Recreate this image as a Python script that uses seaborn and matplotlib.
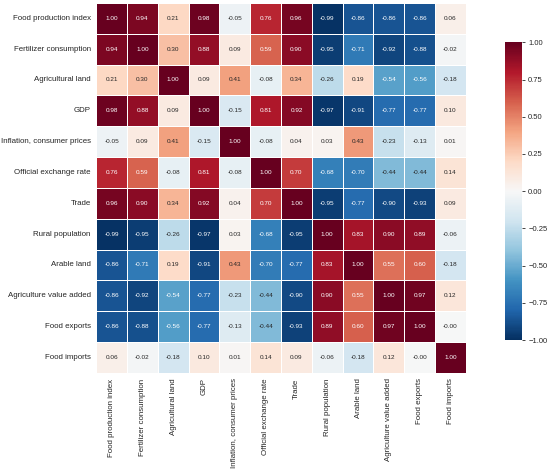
import numpy as np
import pandas as pd
import matplotlib
matplotlib.use("Agg")
import matplotlib.pyplot as plt
import seaborn as sns

labels = ["Food production index", "Fertilizer consumption", "Agricultural land", "GDP",
          "Inflation, consumer prices", "Official exchange rate", "Trade", "Rural population",
          "Arable land", "Agriculture value added", "Food exports", "Food imports"]

# correlation rows
r_food_prod = [1.00, 0.94, 0.21, 0.98, -0.05, 0.76, 0.96, -0.99, -0.86, -0.86, -0.86, 0.06]
r_fert = [0.94, 1.00, 0.30, 0.88, 0.09, 0.59, 0.90, -0.95, -0.71, -0.92, -0.88, -0.02]
r_agri_land = [0.21, 0.30, 1.00, 0.09, 0.41, -0.08, 0.34, -0.26, 0.19, -0.54, -0.56, -0.18]
r_gdp = [0.98, 0.88, 0.09, 1.00, -0.15, 0.81, 0.92, -0.97, -0.91, -0.77, -0.77, 0.10]
r_infl = [-0.05, 0.09, 0.41, -0.15, 1.00, -0.08, 0.04, 0.03, 0.43, -0.23, -0.13, 0.01]
r_exch = [0.76, 0.59, -0.08, 0.81, -0.08, 1.00, 0.70, -0.68, -0.70, -0.44, -0.44, 0.14]
r_trade = [0.96, 0.90, 0.34, 0.92, 0.04, 0.70, 1.00, -0.95, -0.77, -0.90, -0.93, 0.09]
r_rural = [-0.99, -0.95, -0.26, -0.97, 0.03, -0.68, -0.95, 1.00, 0.83, 0.90, 0.89, -0.06]
r_arable = [-0.86, -0.71, 0.19, -0.91, 0.43, -0.70, -0.77, 0.83, 1.00, 0.55, 0.60, -0.18]
r_value_added = [-0.86, -0.92, -0.54, -0.77, -0.23, -0.44, -0.90, 0.90, 0.55, 1.00, 0.97, 0.12]
r_exports = [-0.86, -0.88, -0.56, -0.77, -0.13, -0.44, -0.93, 0.89, 0.60, 0.97, 1.00, -0.001]
r_imports = [0.06, -0.02, -0.18, 0.10, 0.01, 0.14, 0.09, -0.06, -0.18, 0.12, -0.001, 1.00]

corr = pd.DataFrame([r_food_prod, r_fert, r_agri_land, r_gdp, r_infl, r_exch, r_trade,
                     r_rural, r_arable, r_value_added, r_exports, r_imports],
                    index=labels, columns=labels)

sns.set_style("white")
plt.rcParams['font.family'] = ['Liberation Sans', 'DejaVu Sans']

fig = plt.figure(figsize=(5.5, 4.75), dpi=100)
ax = fig.add_axes([0.175, 0.215, 0.672, 0.779])
cax = fig.add_axes([0.918, 0.284, 0.031, 0.627])

sns.heatmap(corr, ax=ax, cbar_ax=cax, cmap="RdBu_r", vmin=-1, vmax=1, annot=True, fmt=".2f",
            linewidths=0.5, linecolor="white", annot_kws={"size": 4.6})

ax.tick_params(axis="both", length=0, labelsize=5.7, pad=4)
plt.setp(ax.get_xticklabels(), rotation=90)
plt.setp(ax.get_yticklabels(), rotation=0)

cax.tick_params(labelsize=5.5, length=2.5, width=0.6, left=False, right=True, pad=2)
cax.set_yticks([-1, -0.75, -0.5, -0.25, 0, 0.25, 0.5, 0.75, 1])
cax.set_yticklabels(["\u22121.00", "\u22120.75", "\u22120.50", "\u22120.25", "0.00", "0.25", "0.50", "0.75", "1.00"])

fig.savefig("out.png", dpi=100)
